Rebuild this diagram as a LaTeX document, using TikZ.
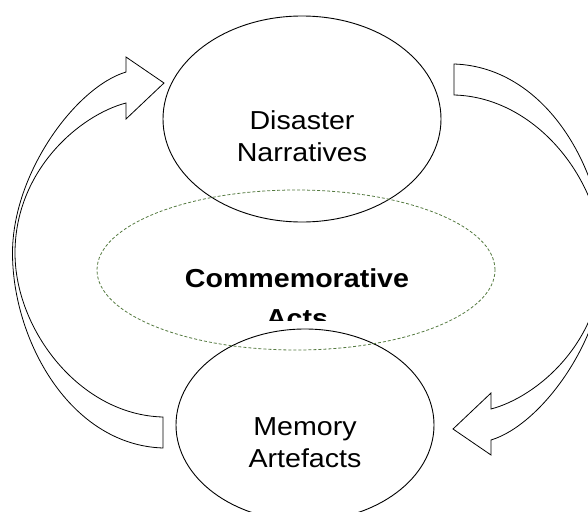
\documentclass[tikz,border=0pt]{standalone}
\usepackage{fontspec}
\setmainfont{Liberation Sans}
\usetikzlibrary{shapes.geometric}
\definecolor{dashgreen}{RGB}{84,122,64}
\newcommand\stretchtxt[1]{\scalebox{1.1}[1]{#1}}
\begin{document}
\begin{tikzpicture}[x=1pt,y=-1pt,
  bubble/.style={draw=black, line width=0.9pt, ellipse, inner sep=0pt},
  ring/.style={draw=dashgreen, dash pattern=on 3pt off 2pt, line width=0.8pt, ellipse, inner sep=0pt},
  txt/.style={font=\fontsize{26}{32}\selectfont, anchor=base, inner sep=0pt},
  boldtxt/.style={txt, font=\fontsize{26}{32}\selectfont\bfseries},
  flow/.style={draw=black, line width=0.8pt, fill=white, line join=miter}
]
\useasboundingbox (0,0) rectangle (588,511);
\clip (0,0) rectangle (588,511);

% curved block arrow on the left, rising towards the upper bubble
\draw[flow] (163,417) .. controls (80,415) and (15,330) .. (15,253)
  .. controls (15,170) and (80,115) .. (126,103)
  -- (126,119) -- (164,83) -- (126,57) -- (126,72)
  .. controls (76,87) and (12.5,173) .. (12.5,253)
  .. controls (12.5,340) and (70,445) .. (163,448) -- cycle;

% the same arrow turned half round, descending on the right
\begin{scope}[rotate around={180:(308.5,256)}]
\draw[flow] (163,417) .. controls (80,415) and (15,330) .. (15,253)
  .. controls (15,170) and (80,115) .. (126,103)
  -- (126,119) -- (164,83) -- (126,57) -- (126,72)
  .. controls (76,87) and (12.5,173) .. (12.5,253)
  .. controls (12.5,340) and (70,445) .. (163,448) -- cycle;
\end{scope}

% bubbles
\node[bubble, minimum width=278pt, minimum height=206pt] (narr) at (302,119) {};
\node[bubble, minimum width=258pt, minimum height=192pt] (mem) at (305,425) {};
\node[ring, minimum width=398pt, minimum height=160pt] (comm) at (296,270) {};

% labels
\node[txt] (narr1) at (302,129) {\stretchtxt{Disaster}};
\node[txt] (narr2) at (302,161) {\stretchtxt{Narratives}};
\node[txt] (mem1) at (305,435) {\stretchtxt{Memory}};
\node[txt] (mem2) at (305,467) {\stretchtxt{Artefacts}};
\begin{scope}
  \clip (0,0) rectangle (588,320);
  \node[boldtxt] (comm1) at (297,287) {\stretchtxt{Commemorative}};
  \node[boldtxt] (comm2) at (297,327) {\stretchtxt{Acts}};
\end{scope}
\end{tikzpicture}
\end{document}
